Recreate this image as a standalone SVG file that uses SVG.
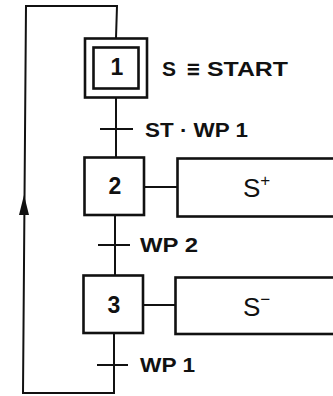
<svg xmlns="http://www.w3.org/2000/svg" width="333" height="396" viewBox="0 0 333 396">
<style>
.box{fill:#fff;stroke:#111;stroke-width:2.6}
.ln{fill:none;stroke:#111;stroke-width:2}
.lbl{font-family:"Liberation Sans",Arial,sans-serif;font-weight:bold;font-size:21px;fill:#111}
.num{font-family:"Liberation Sans",Arial,sans-serif;font-weight:bold;font-size:23px;fill:#111;text-anchor:middle}
.act{font-family:"Liberation Sans",Arial,sans-serif;font-size:26px;fill:#111}
</style>
<g id="connectors">
<polyline class="ln" points="116,38 117,6 26,6 23,393 114,393 114,333"/>
<polygon points="24,195 29,215 19,215" fill="#111"/>
<line class="ln" x1="116" y1="98" x2="116" y2="157"/>
<line class="ln" x1="115" y1="215" x2="115" y2="275"/>
<line class="ln" x1="144" y1="187" x2="177" y2="187"/>
<line class="ln" x1="143" y1="305" x2="175" y2="305"/>
</g>
<g id="t1">
<line class="ln" x1="100" y1="129" x2="133" y2="129"/>
<text class="lbl" x="145" y="137" textLength="103" lengthAdjust="spacingAndGlyphs">ST · WP 1</text>
</g>
<g id="t2">
<line class="ln" x1="98" y1="245" x2="130" y2="245"/>
<text class="lbl" x="140" y="252" textLength="58" lengthAdjust="spacingAndGlyphs">WP 2</text>
</g>
<g id="t3">
<line class="ln" x1="97" y1="365" x2="128" y2="365"/>
<text class="lbl" x="140" y="372" textLength="55" lengthAdjust="spacingAndGlyphs">WP 1</text>
</g>
<g id="step1">
<rect class="box" x="85" y="38.5" width="62" height="59"/>
<rect class="box" x="93.5" y="47.5" width="45" height="41"/>
<text class="num" x="117" y="75">1</text>
<text class="lbl" x="162" y="76" font-size="23">S</text>
<text class="lbl" x="186" y="76" font-size="24" style="font-family:'DejaVu Sans',sans-serif" textLength="15" lengthAdjust="spacingAndGlyphs">≡</text>
<text class="lbl" x="207" y="76" font-size="23" textLength="81" lengthAdjust="spacingAndGlyphs">START</text>
</g>
<g id="step2">
<rect class="box" x="84.5" y="157.5" width="59.5" height="57.5"/>
<text class="num" x="115" y="194">2</text>
</g>
<g id="action2">
<rect class="box" x="177.5" y="158.5" width="170" height="58"/>
<text class="act" x="243" y="197">S<tspan font-size="17" dy="-11">+</tspan></text>
</g>
<g id="step3">
<rect class="box" x="83.5" y="275.5" width="59.5" height="57.5"/>
<text class="num" x="114" y="313">3</text>
</g>
<g id="action3">
<rect class="box" x="175.5" y="277.5" width="170" height="56.5"/>
<text class="act" x="243" y="316">S<tspan font-size="17" dy="-11">−</tspan></text>
</g>
</svg>
